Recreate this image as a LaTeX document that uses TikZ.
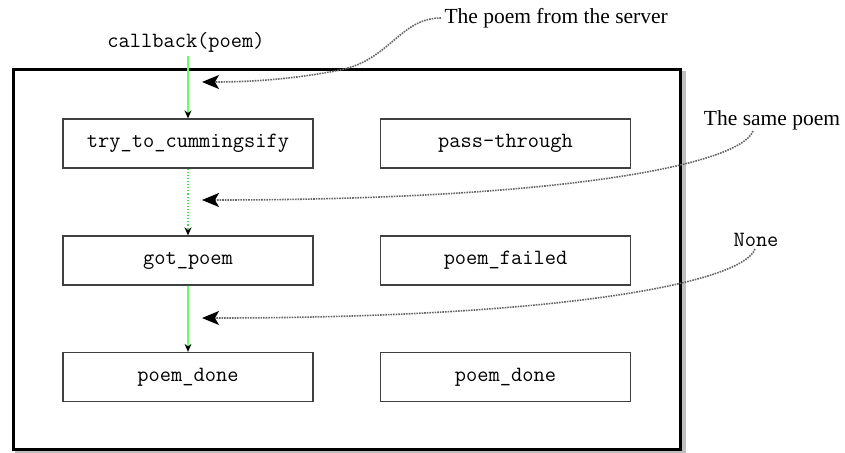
\documentclass[tikz,border=0pt]{standalone}
\usepackage{fontspec}
\setmainfont{Liberation Serif}
\usepackage{tikz}
\usetikzlibrary{arrows.meta}

\begin{document}
\begin{tikzpicture}[x=1pt, y=-1pt,
    fnbox/.style={draw=black!75, line width=1.3pt, minimum width=250pt, minimum height=49pt,
        inner sep=0pt, font=\ttfamily\fontsize{21.8}{24}\selectfont},
    flow/.style={green!60!white, line width=1.1pt, -{Stealth[black, length=8pt, width=7pt]}},
    note/.style={black!60, densely dotted, line width=1.6pt, -{Stealth[black, length=17pt, width=14pt, inset=4pt]}},
    remark/.style={font=\fontsize{21.5}{24}\selectfont},
    ttlabel/.style={font=\ttfamily\fontsize{21.8}{24}\selectfont}]

    \useasboundingbox (0,0) rectangle (845,452);

    % -------------------------
    % Outer frame
    % -------------------------
    \draw[black!25, line width=4pt] (17,73) rectangle (684,452);
    \draw[fill=white, line width=3pt] (13,69) rectangle (680,449);

    % -------------------------
    % Callback boxes
    % -------------------------
    \node[fnbox] (try)    at (188,143.5) {try\_to\_cummingsify};
    \node[fnbox] (pass)   at (505.5,143.5) {pass-through};
    \node[fnbox] (got)    at (188,260.5) {got\_poem};
    \node[fnbox] (failed) at (505.5,260.5) {poem\_failed};
    \node[fnbox] (done)   at (188,377) {poem\_done};
    \node[fnbox] (done2)  at (505.5,377) {poem\_done};

    % -------------------------
    % Call chain
    % -------------------------
    \node[ttlabel] (callback) at (186,42) {callback(poem)};
    \draw[flow] (callback.south -| try.north) -- (try.north);
    \draw[flow, green!80!black!70!white, dotted, line width=1.3pt] (try) -- (got);
    \draw[flow] (got) -- (done);

    % -------------------------
    % Annotations
    % -------------------------
    \node[remark, anchor=west] (server) at (441,18) {The poem from the server};
    \node[remark] (same) at (772,120) {The same poem};
    \node[ttlabel] (none) at (756,240) {None};

    \coordinate (tip1) at (202,82);
    \coordinate (tip2) at (202,200);
    \coordinate (tip3) at (202,318);

    % from the server
    \draw[note] (server.west) .. controls (400,18) and (390,60) .. (340,70)
        .. controls (290,80) and (245,82) .. (tip1);

    % same poem, passed through
    \draw[note] (753,131) .. controls (740,165) and (560,200) .. (tip2);

    % None
    \draw[note] (755,249) .. controls (742,283) and (560,318) .. (tip3);

\end{tikzpicture}
\end{document}
